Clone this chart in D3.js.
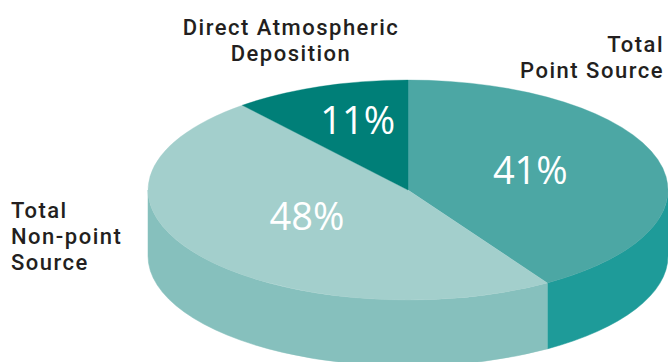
<!DOCTYPE html>
<html><head><meta charset="utf-8">
<script src="https://cdn.jsdelivr.net/npm/d3@7"></script>
<style>body{margin:0;background:#fff}svg{display:block}</style>
</head><body>
<svg id="c" width="668" height="362"></svg>
<script>
// ---- data ----
const categories = ["Total Point Source", "Total Non-point Source", "Direct Atmospheric Deposition"];
const values = [41, 48, 11];
const valueLabels = ["41%", "48%", "11%"];
const categoryLines = [["Total", "Point Source"], ["Total", "Non-point", "Source"], ["Direct Atmospheric", "Deposition"]];

// ---- style / layout ----
const topColors = ["#4ca7a4", "#a3cfcc", "#007f78"];
const sideColors = ["#1e9b99", "#86c0bd", "#006a64"];
const W = 668, H = 362;
const cx = 408, cy = 190, rx = 260, ry = 110, depth = 66;
const labelFracX = [0.49, 0.48, 0.57];
const labelFracY = [0.49, 0.48, 0.63];
const labelPos = [ // [x, y, anchor]
  [664, 52, "end"], [11, 218, "start"], [291, 35, "middle"]
];
const lineGap = 26;

const svg = d3.select("#c");
const pie = d3.pie().sort(null).value(d => d).startAngle(0).endAngle(2 * Math.PI);
const arcs = pie(values);

const pt = (a, dy = 0) => [cx + rx * Math.sin(a), cy - ry * Math.cos(a) + dy];

// side walls (front half: angles PI/2 .. 3PI/2)
const sides = svg.append("g");
arcs.forEach((d, i) => {
  const a0 = Math.max(d.startAngle, Math.PI / 2), a1 = Math.min(d.endAngle, 3 * Math.PI / 2);
  if (a1 <= a0) return;
  const p0 = pt(a0), p1 = pt(a1), q1 = pt(a1, depth), q0 = pt(a0, depth);
  const large = (a1 - a0) > Math.PI ? 1 : 0;
  const path = `M${p0[0]},${p0[1]} A${rx},${ry} 0 ${large} 1 ${p1[0]},${p1[1]} L${q1[0]},${q1[1]} A${rx},${ry} 0 ${large} 0 ${q0[0]},${q0[1]} Z`;
  sides.append("path").attr("d", path).attr("fill", sideColors[i]).attr("stroke", sideColors[i]).attr("stroke-width", 0.5);
});

// top face via d3.arc scaled to ellipse
const arcGen = d3.arc().innerRadius(0).outerRadius(rx);
const topFace = svg.append("g").attr("transform", `translate(${cx},${cy}) scale(1,${ry / rx})`);
topFace.selectAll("path").data(arcs).join("path")
  .attr("d", arcGen).attr("fill", (d, i) => topColors[i])
  .attr("stroke", (d, i) => topColors[i]).attr("stroke-width", 0.5);

// percent labels
svg.append("g").selectAll("text").data(arcs).join("text")
  .attr("x", (d, i) => cx + (pt((d.startAngle + d.endAngle) / 2)[0] - cx) * labelFracX[i])
  .attr("y", (d, i) => cy + (pt((d.startAngle + d.endAngle) / 2)[1] - cy) * labelFracY[i] - 6)
  .attr("text-anchor", "middle").attr("dominant-baseline", "central")
  .attr("font-family", "'Open Sans', sans-serif").attr("font-size", 38).attr("fill", "#fff")
  .text((d, i) => valueLabels[i]);

// category labels: one text element per line
categoryLines.forEach((lines, i) => {
  lines.forEach((l, j) => svg.append("text")
    .attr("x", labelPos[i][0]).attr("y", labelPos[i][1] + j * lineGap)
    .attr("text-anchor", labelPos[i][2])
    .attr("font-family", "Roboto, sans-serif").attr("font-weight", 500)
    .attr("font-size", 22).attr("letter-spacing", 1.5).attr("fill", "#231f20")
    .text(l));
});
</script>
</body></html>
